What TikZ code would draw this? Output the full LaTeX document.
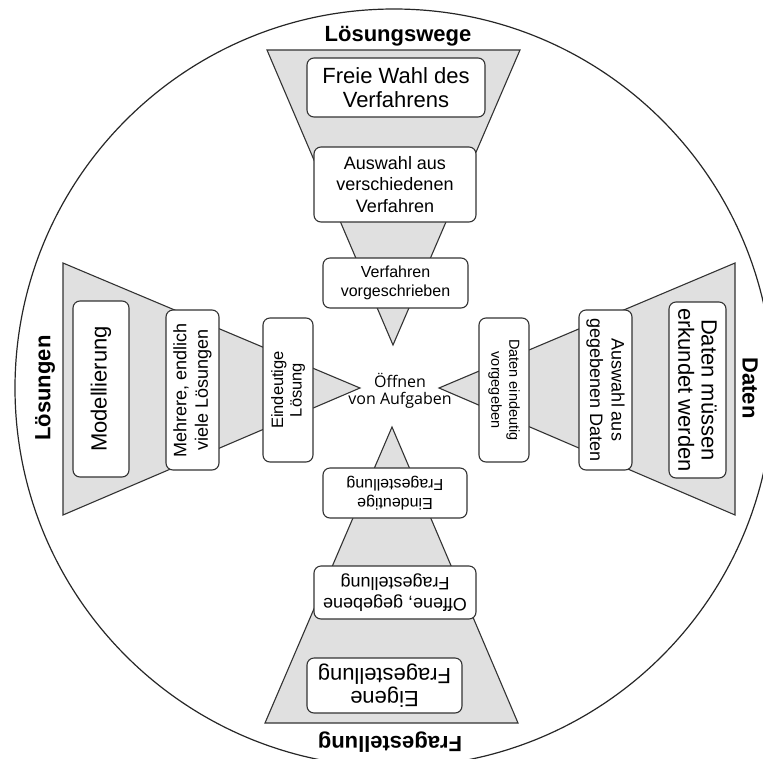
\documentclass[tikz,border=0pt]{standalone}
\usepackage{fontspec}
\setmainfont{Liberation Sans}
\newfontfamily\centerfont{Open Sans}
\begin{document}
\begin{tikzpicture}[x=1pt,y=-1pt,
  funnel/.style={fill=black!12, draw=black!80, line width=1.1pt, line join=miter},
  box/.style={draw=black!80, fill=white, rounded corners=7pt, line width=1.1pt, align=center, inner sep=0pt},
  lab/.style={font=\bfseries\fontsize{22}{24}\selectfont, inner sep=0pt}]
\useasboundingbox (0,0) rectangle (763,758);
\begin{scope}
  \clip (0,0) rectangle (763,758);
  \draw[line width=1.2pt, black!85] (394,388) circle[radius=379];
\end{scope}
% funnels
\draw[funnel] (267,50) -- (520,50) -- (393,345) -- cycle;
\draw[funnel] (265,723) -- (518,723) -- (392,427) -- cycle;
\draw[funnel] (63,263) -- (63,515) -- (360,388) -- cycle;
\draw[funnel] (735,263) -- (735,515) -- (439,388) -- cycle;
% top
\node[box, minimum width=178pt, minimum height=59pt, font=\fontsize{22}{23.5}\selectfont] (fw) at (396,87.5) {Freie Wahl des\\Verfahrens};
\node[box, minimum width=162pt, minimum height=75pt, font=\fontsize{18}{21.5}\selectfont] (av) at (395,184.5) {Auswahl aus\\verschiedenen\\Verfahren};
\node[box, minimum width=145pt, minimum height=50pt, font=\fontsize{16}{19.5}\selectfont] (vv) at (395.5,283) {Verfahren\\vorgeschrieben};
% left
\node[box, rotate=90, minimum width=176pt, minimum height=56pt, font=\fontsize{22}{24}\selectfont] (mo) at (101,389) {Modellierung};
\node[box, rotate=90, minimum width=160pt, minimum height=53pt, font=\fontsize{18}{21.5}\selectfont] (me) at (192.5,390) {Mehrere, endlich\\viele Lösungen};
\node[box, rotate=90, minimum width=144pt, minimum height=50pt, font=\fontsize{16.5}{18.5}\selectfont] (el) at (288,390) {Eindeutige\\Lösung};
% right
\node[box, rotate=-90, minimum width=144pt, minimum height=50pt, font=\fontsize{14.5}{18}\selectfont] (de) at (504,390) {Daten eindeutig\\vorgegeben};
\node[box, rotate=-90, minimum width=160pt, minimum height=53pt, font=\fontsize{18}{21.5}\selectfont] (ag) at (605.5,390) {Auswahl aus\\gegebenen Daten};
\node[box, rotate=-90, minimum width=176pt, minimum height=57pt, font=\fontsize{22}{23.3}\selectfont] (dm) at (697.5,390) {Daten müssen\\erkundet werden};
% bottom
\node[box, rotate=180, minimum width=144pt, minimum height=50pt, font=\fontsize{16}{18.5}\selectfont] (ef) at (395,493) {Eindeutige\\Fragestellung};
\node[box, rotate=180, minimum width=162pt, minimum height=53pt, font=\fontsize{18}{20.5}\selectfont] (og) at (395,592.5) {Offene, gegebene\\Fragestellung};
\node[box, rotate=180, minimum width=155pt, minimum height=55pt, font=\fontsize{22}{23.5}\selectfont] (eg) at (384.5,685.5) {Eigene\\Fragestellung};
% labels
\node[lab] (lw) at (398,36) {Lösungswege};
\node[lab, rotate=90] (ls) at (45,388) {Lösungen};
\node[lab, rotate=-90] (da) at (750,388) {Daten};
\node[lab, rotate=180] (fr) at (390,742) {Fragestellung};
% centre
\node[align=center, inner sep=0pt, font=\centerfont\fontsize{16}{17}\selectfont] (oa) at (400,391) {Öffnen\\von Aufgaben};
\end{tikzpicture}
\end{document}
